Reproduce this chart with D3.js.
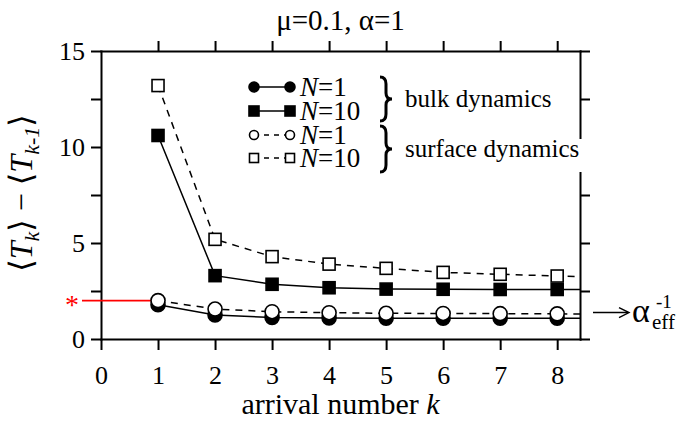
<!DOCTYPE html>
<html>
<head>
<meta charset="utf-8">
<script src="https://cdn.jsdelivr.net/npm/d3@7"></script>
<style>
body { margin: 0; background: #fff; }
.axis path, .axis line { stroke: #000; stroke-width: 2px; }
.axis text { font-size: 26px; fill: #000; }
</style>
</head>
<body>
<div id="chart"></div>
<script>
//data
var arrival = [1, 2, 3, 4, 5, 6, 7, 8];
var bulkN1 = [1.78, 1.25, 1.12, 1.1, 1.08, 1.08, 1.08, 1.08];
var bulkN10 = [10.6, 3.3, 2.85, 2.67, 2.6, 2.59, 2.58, 2.58];
var surfN1 = [2.0, 1.56, 1.42, 1.37, 1.34, 1.33, 1.32, 1.31];
var surfN10 = [13.2, 5.19, 4.29, 3.9, 3.68, 3.47, 3.37, 3.28];
//one more point past the axis so the lines run to the frame
var tailK = 9;
var tailValues = [1.08, 2.58, 1.3, 3.2];
var xTicks = [0, 1, 2, 3, 4, 5, 6, 7, 8];
var yTicks = [0, 2.5, 5, 7.5, 10, 12.5, 15];
var alphaEff = 1.38;
var starValue = 2.0;

var serif = "'Liberation Serif', 'Times New Roman', Times, 'DejaVu Serif', serif";
var width = 681, height = 423;
var mLeft = 101, mRight = 580, mTop = 51, mBottom = 339;

var svg = d3.select("#chart").append("svg")
    .attr("width", width)
    .attr("height", height);

var x = d3.scaleLinear().domain([0, 8.4]).range([mLeft, mRight]);
var y = d3.scaleLinear().domain([0, 15]).range([mBottom, mTop]);

svg.append("defs").append("clipPath").attr("id", "plotclip")
  .append("rect")
    .attr("x", mLeft).attr("y", mTop)
    .attr("width", mRight - mLeft).attr("height", mBottom - mTop);

//axes on all four sides
svg.append("g").attr("class", "axis")
    .attr("transform", "translate(0," + mBottom + ")")
    .call(d3.axisBottom(x).tickValues(xTicks).tickSize(11).tickPadding(10).tickSizeOuter(0))
    .selectAll("text").attr("dy", "0.92em");

svg.append("g").attr("class", "axis")
    .attr("transform", "translate(0," + mTop + ")")
    .call(d3.axisTop(x).tickValues(xTicks.slice(1)).tickSize(10).tickFormat("").tickSizeOuter(0));

svg.append("g").attr("class", "axis")
    .attr("transform", "translate(" + mLeft + ",0)")
    .call(d3.axisLeft(y).tickValues(yTicks).tickSize(10).tickPadding(6).tickSizeOuter(0)
        .tickFormat(function(d) { return d % 5 == 0 ? d : ""; }));

svg.append("g").attr("class", "axis")
    .attr("transform", "translate(" + mRight + ",0)")
    .call(d3.axisRight(y).tickValues(yTicks).tickSize(10).tickFormat("").tickSizeOuter(0));

svg.selectAll(".axis path").attr("stroke-linecap", "square");

//series
var series = [
  {vals: bulkN1, tail: tailValues[0], shape: "circle", fill: "#000", dash: null},
  {vals: bulkN10, tail: tailValues[1], shape: "square", fill: "#000", dash: null},
  {vals: surfN1, tail: tailValues[2], shape: "circle", fill: "#fff", dash: "7,6"},
  {vals: surfN10, tail: tailValues[3], shape: "square", fill: "#fff", dash: "7,6"}
];

var line = d3.line().x(function(d) { return x(d[0]); }).y(function(d) { return y(d[1]); });

//red marker line to the first surface N=1 point
svg.append("line")
    .attr("x1", 82).attr("x2", x(1))
    .attr("y1", y(starValue)).attr("y2", y(starValue))
    .attr("stroke", "red").attr("stroke-width", 1.6);
svg.append("text")
    .attr("x", 72).attr("y", y(starValue) + 13)
    .attr("text-anchor", "middle")
    .attr("fill", "red")
    .style("font-size", "28px")
    .text("*");

var plot = svg.append("g");

series.forEach(function(s) {
  var pts = arrival.map(function(k, i) { return [k, s.vals[i]]; });
  pts.push([tailK, s.tail]);
  plot.append("path")
      .attr("clip-path", "url(#plotclip)")
      .attr("d", line(pts))
      .attr("fill", "none")
      .attr("stroke", "#000")
      .attr("stroke-width", 1.5)
      .attr("stroke-dasharray", s.dash);
});

function marker(g, shape, cx, cy, size, fill) {
  if (shape == "circle") {
    g.append("circle").attr("cx", cx).attr("cy", cy).attr("r", size / 2)
        .attr("fill", fill).attr("stroke", "#000").attr("stroke-width", 1.6);
  } else {
    g.append("rect").attr("x", cx - size / 2).attr("y", cy - size / 2)
        .attr("width", size).attr("height", size)
        .attr("fill", fill).attr("stroke", "#000").attr("stroke-width", 1.6);
  }
}

series.forEach(function(s) {
  arrival.forEach(function(k, i) {
    marker(plot, s.shape, x(k), y(s.vals[i]), s.shape == "circle" ? 14 : 12, s.fill);
  });
});

//legend
var legRows = [
  {s: series[0], label: "1", y: 87},
  {s: series[1], label: "10", y: 111},
  {s: series[2], label: "1", y: 135},
  {s: series[3], label: "10", y: 158}
];
var leg = svg.append("g");
legRows.forEach(function(r) {
  leg.append("line").attr("x1", 254).attr("x2", 290).attr("y1", r.y).attr("y2", r.y)
      .attr("stroke", "#000").attr("stroke-width", 1.5)
      .attr("stroke-dasharray", r.s.dash ? "5,5" : null);
  var sz = r.s.fill == "#000" ? 10 : 9;
  marker(leg, r.s.shape, 254, r.y, sz, r.s.fill);
  marker(leg, r.s.shape, 290, r.y, sz, r.s.fill);
  var t = leg.append("text").attr("x", 300).attr("y", r.y + 9).style("font-size", "27px");
  t.append("tspan").style("font-style", "italic").text("N");
  t.append("tspan").text("=" + r.label);
});

//curly brace drawn as a path
function brace(bx, y1, y2) {
  var m = (y1 + y2) / 2;
  return "M" + (bx - 6) + "," + y1 +
    "Q" + bx + "," + y1 + " " + bx + "," + (y1 + 7) +
    "L" + bx + "," + (m - 6) +
    "Q" + bx + "," + m + " " + (bx + 6) + "," + m +
    "Q" + bx + "," + m + " " + bx + "," + (m + 6) +
    "L" + bx + "," + (y2 - 7) +
    "Q" + bx + "," + y2 + " " + (bx - 6) + "," + y2;
}

[[77, 121, "bulk dynamics"], [126, 172, "surface dynamics"]].forEach(function(b) {
  var mid = (b[0] + b[1]) / 2;
  if (b[2] == "surface dynamics") {
    leg.append("rect").attr("x", 402).attr("y", b[0] + 13).attr("width", 194).attr("height", 33).attr("fill", "#fff");
  }
  leg.append("path").attr("d", brace(386, b[0], b[1]))
      .attr("fill", "none").attr("stroke", "#000").attr("stroke-width", 3);
  leg.append("text").attr("x", 405).attr("y", mid + 8)
      .style("font-size", "25px")
      .text(b[2]);
});

//alpha_eff arrow
var ay = y(alphaEff);
svg.append("line").attr("x1", 593).attr("x2", 628).attr("y1", ay).attr("y2", ay)
    .attr("stroke", "#000").attr("stroke-width", 1.4);
svg.append("path").attr("d", "M619," + (ay - 5) + "L629," + ay + "L619," + (ay + 5))
    .attr("fill", "none").attr("stroke", "#000").attr("stroke-width", 1.4);
svg.append("text").attr("x", 632).attr("y", ay + 9).style("font-size", "34px").text("α");
svg.append("text").attr("x", 656).attr("y", ay - 5).style("font-size", "19px").text("-1");
svg.append("text").attr("x", 652).attr("y", ay + 16).style("font-size", "21px").text("eff");

//title and axis labels
svg.append("text").attr("x", (mLeft + mRight) / 2).attr("y", 30)
    .attr("text-anchor", "middle").style("font-size", "29px")
    .text("μ=0.1, α=1");

var xl = svg.append("text").attr("x", (mLeft + mRight) / 2).attr("y", 414)
    .attr("text-anchor", "middle").style("font-size", "30px");
xl.append("tspan").text("arrival number ");
xl.append("tspan").style("font-style", "italic").text("k");

var yl = svg.append("text")
    .attr("transform", "translate(32,193) rotate(-90)")
    .attr("text-anchor", "middle")
    .style("font-size", "32px");
yl.append("tspan").text("⟨");
yl.append("tspan").style("font-style", "italic").text("T");
yl.append("tspan").style("font-style", "italic").style("font-size", "22px").attr("dy", 7).text("k");
yl.append("tspan").attr("dy", -7).text("⟩ − ⟨");
yl.append("tspan").style("font-style", "italic").text("T");
yl.append("tspan").style("font-style", "italic").style("font-size", "22px").attr("dy", 7).text("k-1");
yl.append("tspan").attr("dy", -7).text("⟩");

svg.selectAll("text").style("font-family", serif);
</script>
</body>
</html>
